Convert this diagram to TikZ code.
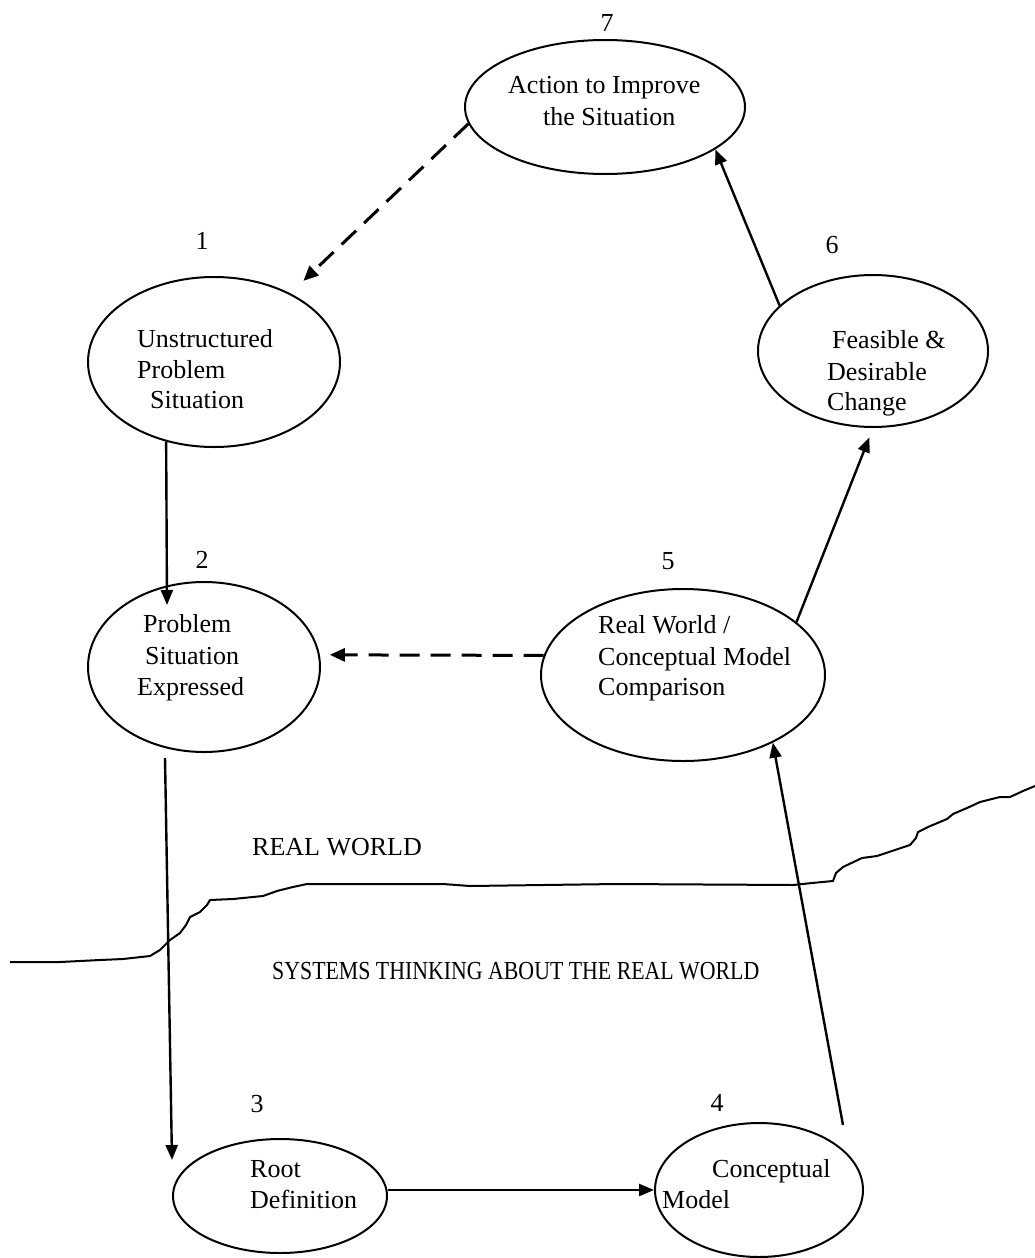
\documentclass[tikz,border=0pt]{standalone}
\usepackage{fontspec}
\setmainfont{Liberation Serif}
\usetikzlibrary{shapes.geometric,arrows.meta,calc}
\begin{document}
\begin{tikzpicture}[x=1pt,y=-1pt,
  ell/.style={draw,ellipse,line width=2pt,inner sep=0pt},
  txt/.style={anchor=base west,inner sep=0pt,font=\fontsize{26}{31}\selectfont},
  num/.style={anchor=base,inner sep=0pt,font=\fontsize{26}{31}\selectfont},
  arr/.style={line width=2.4pt,-{Triangle[length=15pt,width=12pt]}},
  darr/.style={line width=3pt,dash pattern=on 20pt off 11pt,-{Triangle[length=15pt,width=13pt]}},
  bound/.style={line width=2pt,line join=round}]
\useasboundingbox (0,0) rectangle (1035,1258);

% ellipses
\node[ell,minimum width=280pt,minimum height=134pt] (e7) at (605,107) {};
\node[ell,minimum width=252pt,minimum height=170pt] (e1) at (214,362) {};
\node[ell,minimum width=232pt,minimum height=170pt] (e2) at (204,667) {};
\node[ell,minimum width=230pt,minimum height=152pt] (e6) at (873,351) {};
\node[ell,minimum width=284pt,minimum height=172pt] (e5) at (683,675) {};
\node[ell,minimum width=214pt,minimum height=114pt] (e3) at (280,1196) {};
\node[ell,minimum width=208pt,minimum height=134pt] (e4) at (759,1190) {};

% numbers
\node[num] (n7) at (607,31) {7};
\node[num] (n1) at (202,249) {1};
\node[num] (n6) at (832,253) {6};
\node[num] (n2) at (202,568) {2};
\node[num] (n5) at (668,569) {5};
\node[num] (n3) at (257,1112) {3};
\node[num] (n4) at (717,1111) {4};

% texts
\node[txt] (t7a) at (508,93) {Action to Improve};
\node[txt] (t7b) at (543,125) {the Situation};
\node[txt] (t1a) at (137,347) {Unstructured};
\node[txt] (t1b) at (137,378) {Problem};
\node[txt] (t1c) at (150,408) {Situation};
\node[txt] (t6a) at (832,348) {Feasible \&};
\node[txt] (t6b) at (827,380) {Desirable};
\node[txt] (t6c) at (827,410) {Change};
\node[txt] (t2a) at (143,632) {Problem};
\node[txt] (t2b) at (145,664) {Situation};
\node[txt] (t2c) at (137,695) {Expressed};
\node[txt] (t5a) at (598,633) {Real World /};
\node[txt] (t5b) at (598,665) {Conceptual Model};
\node[txt] (t5c) at (598,695) {Comparison};
\node[txt] (t3a) at (250,1177) {Root};
\node[txt] (t3b) at (250,1208) {Definition};
\node[txt] (t4a) at (712,1177) {Conceptual};
\node[txt] (t4b) at (662,1208) {Model};
\node[txt] (rw) at (252,855) {REAL WORLD};
\node[txt] (st) at (272,979) {\scalebox{0.84}[1]{SYSTEMS THINKING ABOUT THE REAL WORLD}};

% free ends
\coordinate (tip12) at (167,605);
\coordinate (s23) at (165,758);
\coordinate (tip23) at (172,1160);
\coordinate (c45) at (843,1125);

% connectors
\draw[darr,shorten >=18pt] (e7.187) -- (e1.42);
\draw[arr] (e6.154) -- (e7.339);
\draw[arr,shorten >=10pt] (e5.25) -- (e6.270);
\draw[arr] (c45) -- (e5.323);
\draw[darr,shorten >=10pt] (e5.172) -- (e2.6);
\draw[arr] (e1.239) -- (tip12);
\draw[arr] (s23) -- (tip23);
\draw[arr] (e3.east |- e4.west) -- (e4.west);

% boundary between real world and systems thinking
\draw[bound] (10,962) -- (60,962) -- (100,960) -- (123,959) -- (150,956) -- (160,950)
  -- (170,940) -- (180,933) -- (186,925) -- (190,917) -- (200,912) -- (207,905)
  -- (210,900) -- (233,899) -- (263,896) -- (277,891) -- (293,887) -- (307,884)
  -- (443,884) -- (470,886) -- (617,884) -- (793,885) -- (812,883) -- (833,881)
  -- (836,873) -- (843,867) -- (862,858) -- (877,856) -- (910,845) -- (916,838)
  -- (918,832) -- (928,827) -- (947,819) -- (953,814) -- (967,808) -- (980,802)
  -- (1000,797) -- (1010,797) -- (1023,791) -- (1035,786);
\end{tikzpicture}
\end{document}
